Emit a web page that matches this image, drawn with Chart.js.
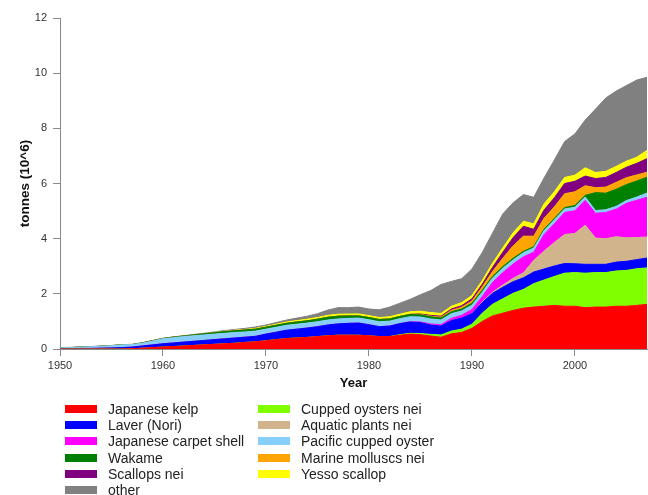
<!DOCTYPE html>
<html>
<head>
<meta charset="utf-8">
<script src="https://cdn.jsdelivr.net/npm/chart.js@4/dist/chart.umd.min.js"></script>
<style>
  body { margin: 0; background: #fff; }
  #wrap { position: relative; width: 648px; height: 495px; }
  #legend { position: absolute; left: 0; top: 0; width: 648px; height: 495px; pointer-events: none;
            font-family: "Liberation Sans", Arial, sans-serif; font-size: 14px; color: #222; }
  .item { position: absolute; height: 16px; line-height: 16px; white-space: nowrap; }
  .sw { position: absolute; left: 0; top: 4px; width: 32px; height: 8px; }
  .lab { position: absolute; left: 43px; top: 0; }
</style>
</head>
<body>
<div id="wrap">
  <canvas id="chart" width="648" height="495"></canvas>
  <div id="legend"></div>
</div>
<script>
// years 1950 - 2007
const years = [1950,1951,1952,1953,1954,1955,1956,1957,1958,1959,
               1960,1961,1962,1963,1964,1965,1966,1967,1968,1969,
               1970,1971,1972,1973,1974,1975,1976,1977,1978,1979,
               1980,1981,1982,1983,1984,1985,1986,1987,1988,1989,
               1990,1991,1992,1993,1994,1995,1996,1997,1998,1999,
               2000,2001,2002,2003,2004,2005,2006,2007];
const xTicks = [1950, 1960, 1970, 1980, 1990, 2000];
const yTicks = [0, 2, 4, 6, 8, 10, 12];

// tonnes (10^6), stacked bottom -> top
const japaneseKelp = [0,0,0,0,0,0,0,0.01,0.03,0.05,
  0.07,0.09,0.11,0.13,0.15,0.17,0.19,0.21,0.24,0.26,
  0.3,0.34,0.38,0.4,0.42,0.45,0.48,0.5,0.5,0.5,
  0.48,0.45,0.45,0.5,0.54,0.52,0.47,0.43,0.55,0.6,
  0.75,1.0,1.2,1.3,1.4,1.48,1.52,1.55,1.58,1.55,
  1.55,1.5,1.52,1.52,1.55,1.55,1.58,1.62];
const cuppedOysters = [0,0,0,0,0,0,0,0,0,0,
  0,0,0,0,0,0,0,0,0,0,
  0,0,0,0,0,0,0,0,0,0,
  0,0,0,0.02,0.03,0.04,0.06,0.08,0.1,0.12,
  0.15,0.3,0.42,0.52,0.62,0.68,0.85,0.95,1.05,1.2,
  1.22,1.25,1.25,1.25,1.28,1.3,1.33,1.32];
const laver = [0.01,0.01,0.02,0.02,0.03,0.04,0.05,0.06,0.08,0.1,
  0.12,0.13,0.14,0.15,0.16,0.17,0.18,0.19,0.19,0.2,
  0.24,0.27,0.3,0.32,0.34,0.36,0.39,0.41,0.43,0.44,
  0.4,0.36,0.38,0.4,0.41,0.4,0.34,0.32,0.38,0.4,
  0.38,0.38,0.4,0.42,0.42,0.42,0.42,0.4,0.38,0.35,
  0.32,0.32,0.3,0.3,0.32,0.33,0.33,0.36];
const aquaticPlants = [0,0,0,0,0,0,0,0,0,0,
  0,0,0,0,0,0,0,0,0,0,
  0,0,0,0,0,0,0,0,0,0,
  0,0,0,0,0,0,0,0,0,0,
  0,0.02,0.04,0.08,0.12,0.18,0.42,0.65,0.85,1.05,
  1.1,1.42,0.95,0.93,0.92,0.85,0.8,0.76];
const carpetShell = [0,0,0,0,0,0,0,0,0,0,
  0,0,0,0,0,0,0,0,0,0,
  0,0,0,0,0,0,0,0,0,0,
  0,0,0,0,0.01,0.02,0.04,0.05,0.08,0.1,
  0.15,0.2,0.35,0.45,0.52,0.58,0.3,0.6,0.68,0.8,
  0.82,0.9,0.9,0.95,1.0,1.25,1.35,1.44];
const pacificOyster = [0.03,0.04,0.05,0.06,0.07,0.08,0.1,0.09,0.1,0.14,
  0.18,0.19,0.2,0.2,0.2,0.2,0.2,0.2,0.19,0.19,
  0.18,0.18,0.18,0.18,0.18,0.18,0.18,0.18,0.18,0.18,
  0.18,0.18,0.18,0.18,0.18,0.18,0.18,0.17,0.17,0.16,
  0.16,0.16,0.16,0.16,0.15,0.15,0.15,0.14,0.14,0.13,
  0.13,0.12,0.1,0.1,0.1,0.1,0.12,0.15];
const wakame = [0,0,0,0,0,0,0,0,0.01,0.01,
  0.01,0.02,0.02,0.03,0.04,0.05,0.06,0.06,0.07,0.07,
  0.07,0.07,0.07,0.08,0.08,0.09,0.1,0.1,0.09,0.08,
  0.08,0.08,0.08,0.08,0.08,0.08,0.08,0.07,0.07,0.07,
  0.07,0.07,0.06,0.06,0.06,0.05,0.05,0.05,0.05,0.05,
  0.06,0.06,0.65,0.6,0.62,0.58,0.58,0.58];
const marineMolluscs = [0,0,0,0,0,0,0,0,0,0,
  0,0,0,0,0,0,0,0,0,0,
  0,0,0,0,0,0,0,0,0,0,
  0,0,0,0,0,0.01,0.02,0.03,0.05,0.06,
  0.08,0.12,0.18,0.3,0.45,0.55,0.38,0.4,0.42,0.5,
  0.5,0.35,0.18,0.22,0.25,0.25,0.22,0.18];
const scallops = [0,0,0,0,0,0,0,0,0,0,
  0,0,0,0,0,0,0,0,0,0,
  0,0,0,0,0,0,0,0,0,0,
  0,0,0,0,0.01,0.02,0.03,0.04,0.05,0.06,
  0.08,0.1,0.15,0.22,0.3,0.36,0.25,0.3,0.33,0.37,
  0.38,0.35,0.33,0.35,0.36,0.38,0.42,0.49];
const yessoScallop = [0,0,0,0,0,0,0,0,0,0,
  0,0,0,0,0,0.01,0.01,0.02,0.02,0.03,
  0.03,0.04,0.05,0.05,0.06,0.06,0.07,0.07,0.07,0.07,
  0.07,0.07,0.08,0.08,0.09,0.1,0.1,0.1,0.1,0.11,
  0.12,0.13,0.15,0.16,0.17,0.18,0.2,0.22,0.22,0.22,
  0.22,0.3,0.22,0.22,0.22,0.22,0.22,0.3];
const other = [0.01,0.01,0.01,0.01,0.01,0.01,0.01,0.01,0.01,0.01,
  0.01,0.01,0.01,0.02,0.02,0.02,0.03,0.03,0.04,0.05,
  0.05,0.06,0.07,0.09,0.11,0.14,0.19,0.24,0.23,0.25,
  0.24,0.28,0.35,0.4,0.45,0.6,0.8,1.05,0.9,0.87,
  0.96,1.02,1.09,1.23,1.09,0.97,0.96,0.94,1.15,1.3,
  1.5,1.73,2.3,2.66,2.73,2.74,2.8,2.65];

// stacking order (bottom first)
const series = [
  { name: 'Japanese kelp', color: '#ff0000', data: japaneseKelp },
  { name: 'Cupped oysters nei', color: '#7fff00', data: cuppedOysters },
  { name: 'Laver (Nori)', color: '#0000ff', data: laver },
  { name: 'Aquatic plants nei', color: '#d2b48c', data: aquaticPlants },
  { name: 'Japanese carpet shell', color: '#ff00ff', data: carpetShell },
  { name: 'Pacific cupped oyster', color: '#87cefa', data: pacificOyster },
  { name: 'Wakame', color: '#008000', data: wakame },
  { name: 'Marine molluscs nei', color: '#ffa500', data: marineMolluscs },
  { name: 'Scallops nei', color: '#800080', data: scallops },
  { name: 'Yesso scallop', color: '#ffff00', data: yessoScallop },
  { name: 'other', color: '#808080', data: other }
];

// legend layout, two columns filled top to bottom
const legendCol1 = ['Japanese kelp', 'Laver (Nori)', 'Japanese carpet shell', 'Wakame', 'Scallops nei', 'other'];
const legendCol2 = ['Cupped oysters nei', 'Aquatic plants nei', 'Pacific cupped oyster', 'Marine molluscs nei', 'Yesso scallop'];

const datasets = series.map((s, i) => ({
  label: s.name,
  data: s.data.map((v, j) => ({ x: years[j], y: v })),
  backgroundColor: s.color,
  borderColor: s.color,
  borderWidth: 1,
  pointRadius: 0,
  tension: 0,
  fill: i === 0 ? 'origin' : '-1'
}));

const axisColor = '#8a8a8a';
const ctx = document.getElementById('chart').getContext('2d');
new Chart(ctx, {
  type: 'line',
  data: { datasets: datasets },
  options: {
    responsive: false,
    animation: false,
    devicePixelRatio: 1,
    layout: { padding: { left: 0, right: 1, top: 18, bottom: 100 } },
    plugins: { legend: { display: false }, tooltip: { enabled: false } },
    scales: {
      x: {
        type: 'linear',
        min: 1950,
        max: 2007,
        afterBuildTicks: axis => { axis.ticks = xTicks.map(v => ({ value: v })); },
        afterFit: scale => { scale.height = 46; },
        grid: { drawOnChartArea: false, drawTicks: true, tickLength: 7, color: axisColor },
        border: { display: true, color: axisColor },
        ticks: { padding: 3, color: '#333', font: { family: 'Liberation Sans', size: 11 }, maxRotation: 0,
                 callback: v => String(v) },
        title: { display: true, text: 'Year', color: '#111', padding: { top: 4, bottom: 4 },
                 font: { family: 'Liberation Sans', size: 13, weight: 'bold' } }
      },
      y: {
        stacked: true,
        min: 0,
        max: 12,
        afterBuildTicks: axis => { axis.ticks = yTicks.map(v => ({ value: v })); },
        afterFit: scale => { scale.width = 60; },
        grid: { drawOnChartArea: false, drawTicks: true, tickLength: 7, color: axisColor },
        border: { display: true, color: axisColor },
        ticks: { padding: 6, color: '#333', font: { family: 'Liberation Sans', size: 11 } },
        title: { display: true, text: 'tonnes (10^6)', color: '#111', padding: { top: 17, bottom: 0 },
                 font: { family: 'Liberation Sans', size: 13.5, weight: 'bold' } }
      }
    }
  }
});

// html legend
const legend = document.getElementById('legend');
function addLegendColumn(names, left) {
  names.forEach((name, r) => {
    const s = series.find(d => d.name === name);
    const div = document.createElement('div');
    div.className = 'item';
    div.style.left = left + 'px';
    div.style.top = (401 + r * 16.2) + 'px';
    div.innerHTML = '<span class="sw" style="background:' + s.color + '"></span><span class="lab">' + name + '</span>';
    legend.appendChild(div);
  });
}
addLegendColumn(legendCol1, 65);
addLegendColumn(legendCol2, 258);
</script>
</body>
</html>
